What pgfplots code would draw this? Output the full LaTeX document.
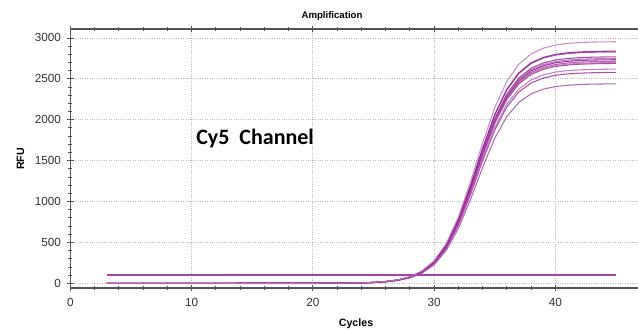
\documentclass[border=0pt]{standalone}
\usepackage{pgfplots}
\pgfplotsset{compat=1.18}
\usepackage{pgfplotstable}
\usepackage{fontspec}
\setmainfont{Liberation Sans}
\newfontfamily\calib{Carlito}

\definecolor{axgray}{HTML}{555555}
\definecolor{gridgray}{HTML}{B8B8B8}
\definecolor{k1}{HTML}{C27AC2}
\definecolor{k2}{HTML}{8E1E8E}
\definecolor{k3}{HTML}{A040A0}
\definecolor{k4}{HTML}{9A2F9A}
\definecolor{k5}{HTML}{B25CB2}
\definecolor{k6}{HTML}{8B208B}
\definecolor{k7}{HTML}{A84AA8}
\definecolor{k8}{HTML}{C070C0}
\definecolor{k9}{HTML}{952895}
\definecolor{k10}{HTML}{B868B8}
\definecolor{k11}{HTML}{9C349C}
\definecolor{k12}{HTML}{A850A8}
\definecolor{flat}{HTML}{A645A6}

\pgfplotstableread{
x   c1   c2   c3   c4   c5   c6   c7   c8   c9   c10  c11  c12
3   0    0    0    0    0    0    0    0    0    0    0    0
20  1    1    1    1    1    1    1    1    1    1    1    1
23  3    3    3    3    3    3    3    3    3    3    3    3
24  6    6    6    6    6    6    6    6    6    6    5    5
25  12   11   11   11   11   11   11   11   11   10   10   10
26  22   21   21   21   21   21   21   20   20   20   20   18
27  43   41   41   40   40   39   39   39   39   38   37   35
28  81   78   77   76   75   75   74   74   73   72   71   67
29  151  145  144  141  140  139  138  137  137  133  131  124
30  275  265  264  258  256  255  253  252  251  244  240  227
31  486  467  466  456  452  450  447  444  443  431  424  401
32  809  778  775  759  753  749  744  740  737  718  707  668
33  1240 1191 1187 1162 1154 1148 1139 1133 1128 1099 1082 1024
34  1715 1649 1643 1608 1596 1587 1576 1567 1561 1521 1498 1416
35  2146 2062 2055 2011 1997 1986 1971 1960 1953 1902 1873 1772
36  2469 2373 2364 2314 2297 2285 2268 2256 2248 2190 2157 2039
37  2680 2575 2566 2512 2494 2480 2462 2448 2439 2376 2340 2213
38  2804 2695 2686 2629 2610 2596 2577 2563 2553 2487 2449 2316
39  2874 2762 2753 2694 2675 2660 2641 2626 2616 2548 2509 2373
40  2912 2799 2789 2730 2710 2695 2675 2661 2651 2582 2543 2405
41  2933 2818 2808 2749 2729 2714 2694 2679 2669 2600 2560 2421
42  2943 2829 2819 2759 2739 2724 2704 2689 2679 2609 2569 2430
43  2949 2834 2824 2764 2744 2729 2709 2694 2684 2614 2574 2435
44  2952 2837 2827 2767 2747 2732 2712 2697 2687 2617 2577 2437
45  2953 2838 2828 2768 2748 2733 2713 2698 2688 2618 2578 2439
}\curves

\begin{document}
\begin{tikzpicture}
\useasboundingbox (0,0) rectangle (478.5pt,248.25pt);
\begin{axis}[
  at={(52.725pt,32.25pt)}, anchor=south west,
  scale only axis, width=425.8pt, height=194.25pt,
  xmin=0, xmax=46.82, ymin=-57, ymax=3109,
  axis y line=left, axis x line=box,
  axis line style={-, color=axgray, line width=0.8pt},
  xtick={0,10,20,30,40}, minor x tick num=4,
  ytick={0,500,1000,1500,2000,2500,3000}, minor y tick num=4,
  tick align=center,
  major tick length=5pt, minor tick length=3.2pt,
  tick style={color=axgray, line width=0.6pt},
  xmajorgrids, ymajorgrids,
  major grid style={color=gridgray, line width=0.6pt, dash pattern=on 0.6pt off 1.2pt},
  /pgf/number format/assume math mode=true,
  /pgf/number format/set thousands separator={},
  ticklabel style={font=\fontsize{8.8}{10}\selectfont, text=black!80},
  xticklabel style={yshift=-1.5pt},
  yticklabel style={xshift=-1pt},
  every axis plot/.append style={line width=0.8pt, opacity=0.85},
]
\addplot[flat, line width=1.2pt, opacity=1] coordinates {(3,100) (45,100)};
\addplot[k12] table[x=x,y=c12]{\curves};
\addplot[k11] table[x=x,y=c11]{\curves};
\addplot[k10] table[x=x,y=c10]{\curves};
\addplot[k9] table[x=x,y=c9]{\curves};
\addplot[k8] table[x=x,y=c8]{\curves};
\addplot[k7] table[x=x,y=c7]{\curves};
\addplot[k6] table[x=x,y=c6]{\curves};
\addplot[k5] table[x=x,y=c5]{\curves};
\addplot[k4] table[x=x,y=c4]{\curves};
\addplot[k3] table[x=x,y=c3]{\curves};
\addplot[k2] table[x=x,y=c2]{\curves};
\addplot[k1] table[x=x,y=c1]{\curves};
\end{axis}
\node[anchor=base, inner sep=0, font=\bfseries\fontsize{7.2}{8}\selectfont] at (249pt,234pt) {Amplification};
\node[anchor=base, inner sep=0, font=\bfseries\fontsize{8}{9}\selectfont] at (267pt,3pt) {Cycles};
\node[anchor=base, rotate=90, inner sep=0, font=\bfseries\fontsize{8}{9}\selectfont] at (18pt,129pt) {RFU};
\node[anchor=base west, inner sep=0, font=\calib\bfseries\fontsize{16.5}{18}\selectfont] at (147pt,140pt) {Cy5~ Channel};
\end{tikzpicture}
\end{document}
